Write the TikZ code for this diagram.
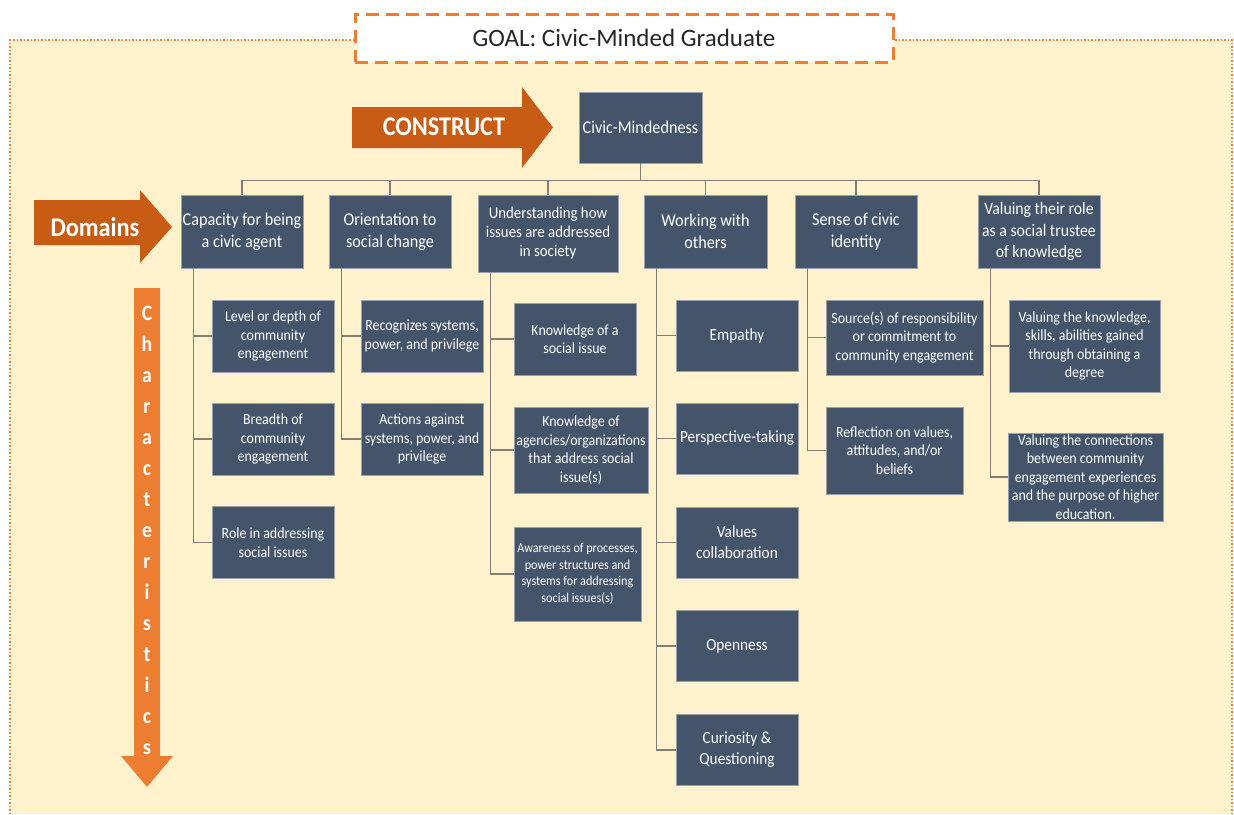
\documentclass[tikz,border=0pt]{standalone}
\usepackage{fontspec}
\setmainfont{Carlito}[FakeStretch=0.9]
\newfontfamily\goalfont{Carlito}
\definecolor{slate}{RGB}{68,84,106}
\definecolor{cream}{RGB}{255,242,204}
\definecolor{burnt}{RGB}{200,92,20}
\definecolor{tangerine}{RGB}{237,125,49}
\definecolor{linkgray}{RGB}{127,127,118}
\tikzset{
  box/.style={fill=slate, draw=slate!55!white, line width=0.6pt, text=white,
    align=center, inner sep=1pt},
  dombox/.style={box, font=\fontsize{18}{22}\selectfont},
  charbox/.style={box, font=\fontsize{15.5}{18.5}\selectfont},
  otherbox/.style={box, font=\fontsize{17}{21}\selectfont},
  arrowtext/.style={text=white, font=\bfseries\fontsize{27}{30}\selectfont},
  charletter/.style={text=white, anchor=base, inner sep=0pt,
    font=\bfseries\fontsize{22}{22}\selectfont},
  link/.style={draw=linkgray, line width=1.5pt},
}

\begin{document}
\begin{tikzpicture}[x=1pt, y=-1pt]
  \useasboundingbox (0,0) rectangle (1234,814);
  \fill[white] (0,0) rectangle (1234,814);
  % cream panel with dotted frame
  \fill[cream] (10,40) rectangle (1232,814);
  \draw[tangerine, line width=2.5pt, dash pattern=on 1.5pt off 2pt]
    (10,814) -- (10,40) -- (1232,40) -- (1232,814);
  \node[draw=tangerine, fill=white, line width=3pt, dash pattern=on 13pt off 7pt,
    minimum width=538, minimum height=48, text=black!85,
    font=\goalfont\fontsize{25}{28}\selectfont] (goal) at (624,38)
    {GOAL: Civic-Minded Graduate};

  % big arrows
  \fill[burnt] (352,107) -- (522,107) -- (522,87) -- (553,127.5) -- (522,168)
    -- (522,148) -- (352,148) -- cycle;
  \node[arrowtext] (construct) at (444,127) {CONSTRUCT};
  \fill[burnt] (34,200) -- (140,200) -- (140,190) -- (172,227) -- (140,263)
    -- (140,245) -- (34,245) -- cycle;
  \node[arrowtext] (domains) at (95,227) {Domains};
  \fill[tangerine] (134,288) -- (160,288) -- (160,756) -- (173,756) -- (147,787)
    -- (121,756) -- (134,756) -- cycle;
  \foreach \ch [count=\i from 0] in {C,h,a,r,a,c,t,e,r,i,s,t,i,c,s}
    \node[charletter] (ch\i) at (147,{320+31*\i}) {\ch};

  % construct
  \node[dombox, minimum width=123, minimum height=71] (civic) at (640.5,127.5)
    {Civic-Mindedness};

  % domains
  \node[dombox, minimum width=122, minimum height=73] (cap) at (242,231.5)
    {Capacity for being\\a civic agent};
  \node[dombox, minimum width=122, minimum height=73] (ori) at (390,231.5)
    {Orientation to\\social change};
  \node[box, font=\fontsize{16.5}{19}\selectfont, minimum width=140,
    minimum height=77] (und) at (548,233.5)
    {Understanding how\\issues are addressed\\in society};
  \node[dombox, minimum width=123, minimum height=73] (wor) at (705.5,231.5)
    {Working with\\others};
  \node[dombox, minimum width=122, minimum height=73] (sen) at (856,231.5)
    {Sense of civic\\identity};
  \node[box, font=\fontsize{17.5}{21.5}\selectfont, minimum width=122,
    minimum height=73] (val) at (1039,231.5)
    {Valuing their role\\as a social trustee\\of knowledge};

  % characteristics
  \node[charbox, minimum width=122, minimum height=72] (lvl) at (273,336)
    {Level or depth of\\community\\engagement};
  \node[charbox, minimum width=122, minimum height=72] (bre) at (273,439)
    {Breadth of\\community\\engagement};
  \node[charbox, minimum width=122, minimum height=72] (rol) at (273,542.5)
    {Role in addressing\\social issues};
  \node[charbox, minimum width=122, minimum height=72] (rec) at (422,336)
    {Recognizes systems,\\power, and privilege};
  \node[charbox, minimum width=122, minimum height=72] (act) at (422,439)
    {Actions against\\systems, power, and\\privilege};
  \node[charbox, minimum width=122, minimum height=72] (kno) at (575,339)
    {Knowledge of a\\social issue};
  \node[charbox, minimum width=134, minimum height=86] (age) at (581,450)
    {Knowledge of\\agencies/organizations\\that address social\\issue(s)};
  \node[box, font=\fontsize{13.5}{16.5}\selectfont, minimum width=127,
    minimum height=94] (awa) at (577.5,574)
    {Awareness of processes,\\power structures and\\systems for addressing\\social issues(s)};
  \node[otherbox, minimum width=122, minimum height=71] (emp) at (737,335.5)
    {Empathy};
  \node[otherbox, minimum width=122, minimum height=71] (per) at (737,438.5)
    {Perspective-taking};
  \node[otherbox, minimum width=122, minimum height=71] (vco) at (737,542.5)
    {Values\\collaboration};
  \node[otherbox, minimum width=122, minimum height=71] (ope) at (737,646)
    {Openness};
  \node[otherbox, minimum width=122, minimum height=71] (cur) at (737,750)
    {Curiosity \&\\Questioning};
  \node[charbox, minimum width=157, minimum height=75] (src) at (904.5,337.5)
    {Source(s) of responsibility\\or commitment to\\community engagement};
  \node[charbox, minimum width=137, minimum height=87] (rfl) at (894.5,450.5)
    {Reflection on values,\\attitudes, and/or\\beliefs};
  \node[charbox, minimum width=151, minimum height=92] (vkn) at (1084.5,346)
    {Valuing the knowledge,\\skills, abilities gained\\through obtaining a\\degree};
  \node[charbox, minimum width=155, minimum height=88] (vcn) at (1085.5,477)
    {Valuing the connections\\between community\\engagement experiences\\and the purpose of higher\\education.};

  % connectors
  \draw[link] (civic.south) -- ++(0,17) coordinate (hub);
  \foreach \d in {cap,ori,und,wor,sen,val}
    \draw[link] (hub) -| (\d.north);
  \foreach \d/\c in {cap/lvl,cap/bre,cap/rol,ori/rec,ori/act,und/kno,und/age,
      und/awa,wor/emp,wor/per,wor/vco,wor/ope,wor/cur,sen/src,sen/rfl,
      val/vkn,val/vcn}
    \draw[link] ([xshift=13pt]\d.south west) |- (\c.west);
\end{tikzpicture}
\end{document}
